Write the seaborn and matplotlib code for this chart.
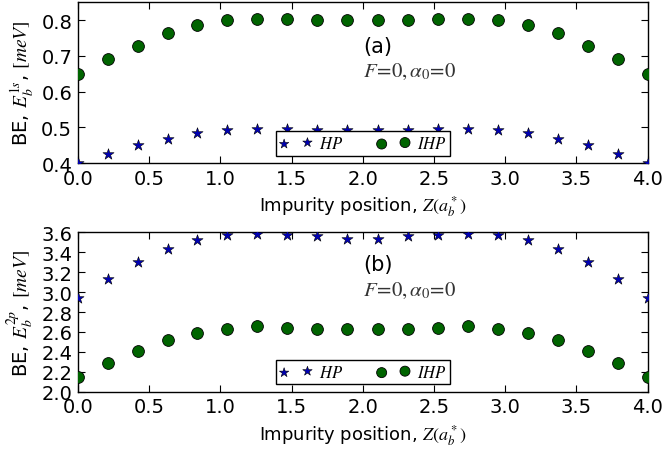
import numpy as np
import pandas as pd
import matplotlib
matplotlib.use("Agg")
import matplotlib.pyplot as plt
import seaborn as sns

# ---- data ----
z_pos = [0.0, 0.21, 0.42, 0.63, 0.84, 1.05, 1.26, 1.47, 1.68, 1.89,
         2.11, 2.32, 2.53, 2.74, 2.95, 3.16, 3.37, 3.58, 3.79, 4.0]
hp_1s = [0.400, 0.425, 0.450, 0.469, 0.485, 0.492, 0.495, 0.495, 0.494, 0.492,
         0.492, 0.494, 0.495, 0.495, 0.492, 0.485, 0.469, 0.450, 0.425, 0.400]
ihp_1s = [0.650, 0.691, 0.728, 0.763, 0.785, 0.800, 0.803, 0.803, 0.800, 0.800,
          0.800, 0.800, 0.803, 0.803, 0.800, 0.785, 0.763, 0.728, 0.691, 0.650]
hp_2p = [2.94, 3.133, 3.300, 3.433, 3.527, 3.573, 3.583, 3.573, 3.560, 3.533,
         3.533, 3.560, 3.573, 3.583, 3.573, 3.527, 3.433, 3.300, 3.133, 2.94]
ihp_2p = [2.15, 2.290, 2.410, 2.523, 2.590, 2.633, 2.657, 2.643, 2.633, 2.633,
          2.633, 2.633, 2.643, 2.657, 2.633, 2.590, 2.523, 2.410, 2.290, 2.15]
xticks = [0.0, 0.5, 1.0, 1.5, 2.0, 2.5, 3.0, 3.5, 4.0]
yticks_a = [0.4, 0.5, 0.6, 0.7, 0.8]
yticks_b = [2.0, 2.2, 2.4, 2.6, 2.8, 3.0, 3.2, 3.4, 3.6]

sns.set_style("ticks")
plt.rcParams['font.family'] = ['DejaVu Sans']
plt.rcParams['mathtext.fontset'] = 'stix'
plt.rcParams['xtick.direction'] = 'in'
plt.rcParams['ytick.direction'] = 'in'
plt.rcParams['text.color'] = 'k'
plt.rcParams['axes.labelcolor'] = 'k'
plt.rcParams['xtick.color'] = 'k'
plt.rcParams['ytick.color'] = 'k'

fig = plt.figure(figsize=(6.65, 4.6), dpi=100)
ax_a = fig.add_axes([0.117, 0.643, 0.857, 0.350])
ax_b = fig.add_axes([0.117, 0.146, 0.857, 0.347])

star_c = '#0000b4'
circ_c = '#006400'

def draw(ax, hp, ihp, ylim, yticks, ylabel, tag, ytag, yF):
    df = pd.DataFrame({"z": z_pos, "hp": hp, "ihp": ihp})
    sns.scatterplot(data=df, x="z", y="hp", ax=ax, marker="*", s=70,
                    color=star_c, edgecolor='k', linewidth=0.4, label="$HP$",
                    zorder=3)
    sns.scatterplot(data=df, x="z", y="ihp", ax=ax, marker="o", s=72,
                    color=circ_c, edgecolor='k', linewidth=0.6, label="$IHP$",
                    zorder=3)
    ax.set_xlim(0, 4)
    ax.set_ylim(*ylim)
    ax.set_xticks(xticks)
    ax.set_xticklabels([f"{t:.1f}" for t in xticks])
    ax.set_yticks(yticks)
    ax.set_yticklabels([f"{t:.1f}" for t in yticks])
    ax.tick_params(axis='both', which='major', labelsize=14, length=5,
                   width=0.8, top=True, right=True, pad=4)
    for sp in ax.spines.values():
        sp.set_linewidth(1.0)
        sp.set_color('k')
    ax.set_xlabel("Impurity position, $Z(a_b^*)$", fontsize=13)
    ax.set_ylabel(ylabel, fontsize=14, labelpad=4)
    leg = ax.legend(loc='lower center', ncol=2, scatterpoints=2,
                    fontsize=12, frameon=True, fancybox=False,
                    borderpad=0.2, handletextpad=0.4, columnspacing=2.0,
                    borderaxespad=0.45, markerscale=0.85, framealpha=1.0)
    leg.get_frame().set_edgecolor('k')
    leg.get_frame().set_linewidth(1.0)
    ax.text(0.50, ytag, tag, transform=ax.transAxes, fontsize=15,
            ha='left', va='center')
    ax.text(0.50, yF, r"$F\!=\!0, \alpha_0\!=\!0$", transform=ax.transAxes,
            fontsize=15, ha='left', va='center', color='#333333')

draw(ax_a, hp_1s, ihp_1s, (0.4, 0.85), yticks_a,
     r"BE, $E_b^{1s}$, $[meV]$", "(a)", 0.73, 0.57)
draw(ax_b, hp_2p, ihp_2p, (2.0, 3.6), yticks_b,
     r"BE, $E_b^{2p}$, $[meV]$", "(b)", 0.80, 0.64)

fig.savefig("out.png", dpi=100)
